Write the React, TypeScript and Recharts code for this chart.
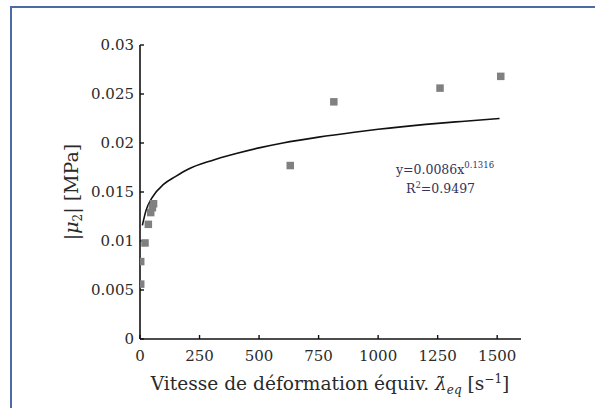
import React from 'react';
import { ComposedChart, XAxis, YAxis, Scatter, Line, Customized } from 'recharts';

const pointX = [3, 3, 21, 35, 45, 52, 57, 631, 814, 1260, 1515];
const pointY = [0.0056, 0.0079, 0.0098, 0.0117, 0.0129, 0.0134, 0.0138, 0.0177, 0.0242, 0.0256, 0.0268];
const fitX = [10, 25, 50, 100, 150, 200, 300, 400, 500, 600, 750, 900, 1000, 1200, 1350, 1510];
const fitY = [0.0116, 0.0131, 0.0144, 0.0158, 0.0166, 0.0173, 0.0182, 0.0189, 0.0195, 0.0200, 0.0206, 0.0211, 0.0214, 0.0219, 0.0222, 0.0225];
const xTicks = [0, 250, 500, 750, 1000, 1250, 1500];
const yTicks = [0, 0.005, 0.01, 0.015, 0.02, 0.025, 0.03];

const points = pointX.map((x, i) => ({ x, y: pointY[i] }));
const fit = fitX.map((x, i) => ({ x, y: fitY[i] }));

const FONT = '"DejaVu Serif", "Liberation Serif", serif';
const TEXT = '#2a2a2a';
const BORDER = '#4a6ba3';

const Square = (props: any) => {
  const { cx, cy } = props;
  return <rect x={cx - 3.75} y={cy - 3.75} width={7.5} height={7.5} fill="#808080" />;
};

const Texts = () => (
  <g>
    <line x1={11} y1={7} x2={595} y2={7} stroke={BORDER} strokeWidth={2} />
    <line x1={11} y1={6} x2={11} y2={408} stroke={BORDER} strokeWidth={2} />
    <text
      x={0}
      y={0}
      transform="translate(78,192) rotate(-90)"
      textAnchor="middle"
      fontFamily={FONT}
      fontSize={19}
      fill={TEXT}
    >
      |<tspan fontStyle="italic">μ</tspan>
      <tspan fontSize={12} dy={4}>2</tspan>
      <tspan dy={-4}>| [MPa]</tspan>
    </text>
    <text x={330} y={390} textAnchor="middle" fontFamily={FONT} fontSize={18.6} fill={TEXT}>
      Vitesse de déformation équiv.{' '}
      <tspan fontStyle="italic">λ̇</tspan>
      <tspan fontSize={12} dy={4} fontStyle="italic">eq</tspan>
      <tspan dy={-4}> [s</tspan>
      <tspan fontSize={12} dy={-7}>−1</tspan>
      <tspan dy={7}>]</tspan>
    </text>
    <text x={396} y={174} fontFamily={FONT} fontSize={12.5} fill="#33335e">
      y=0.0086x<tspan fontSize={8.5} dy={-6}>0.1316</tspan>
    </text>
    <text x={406} y={193} fontFamily={FONT} fontSize={12.5} fill="#33335e">
      R<tspan fontSize={8.5} dy={-5}>2</tspan>
      <tspan dy={5}>=0.9497</tspan>
    </text>
  </g>
);

export default function App() {
  return (
    <div style={{ position: 'fixed', left: 0, top: 0, width: 595, height: 408, overflow: 'hidden', background: '#fff' }}>
      <ComposedChart width={595} height={408} margin={{ top: 45, right: 74, bottom: 39, left: 80 }}>
        <XAxis
          type="number"
          dataKey="x"
          domain={[0, 1600]}
          ticks={xTicks}
          allowDataOverflow
          height={30}
          tickSize={-4}
          tickMargin={15}
          axisLine={{ stroke: '#111', strokeWidth: 1.6 }}
          tickLine={{ stroke: '#111', strokeWidth: 1.4 }}
          tick={{ fill: TEXT, fontFamily: FONT, fontSize: 15 }}
        />
        <YAxis
          type="number"
          dataKey="y"
          domain={[0, 0.03]}
          ticks={yTicks}
          allowDataOverflow
          width={60}
          tickSize={-4}
          tickMargin={10}
          axisLine={{ stroke: '#111', strokeWidth: 1.6 }}
          tickLine={{ stroke: '#111', strokeWidth: 1.4 }}
          tick={{ fill: TEXT, fontFamily: FONT, fontSize: 15 }}
        />
        <Line
          data={fit}
          dataKey="y"
          type="monotone"
          stroke="#111"
          strokeWidth={1.6}
          dot={false}
          activeDot={false}
          isAnimationActive={false}
        />
        <Scatter data={points} dataKey="y" shape={Square} isAnimationActive={false} />
        <Customized component={Texts} />
      </ComposedChart>
    </div>
  );
}
